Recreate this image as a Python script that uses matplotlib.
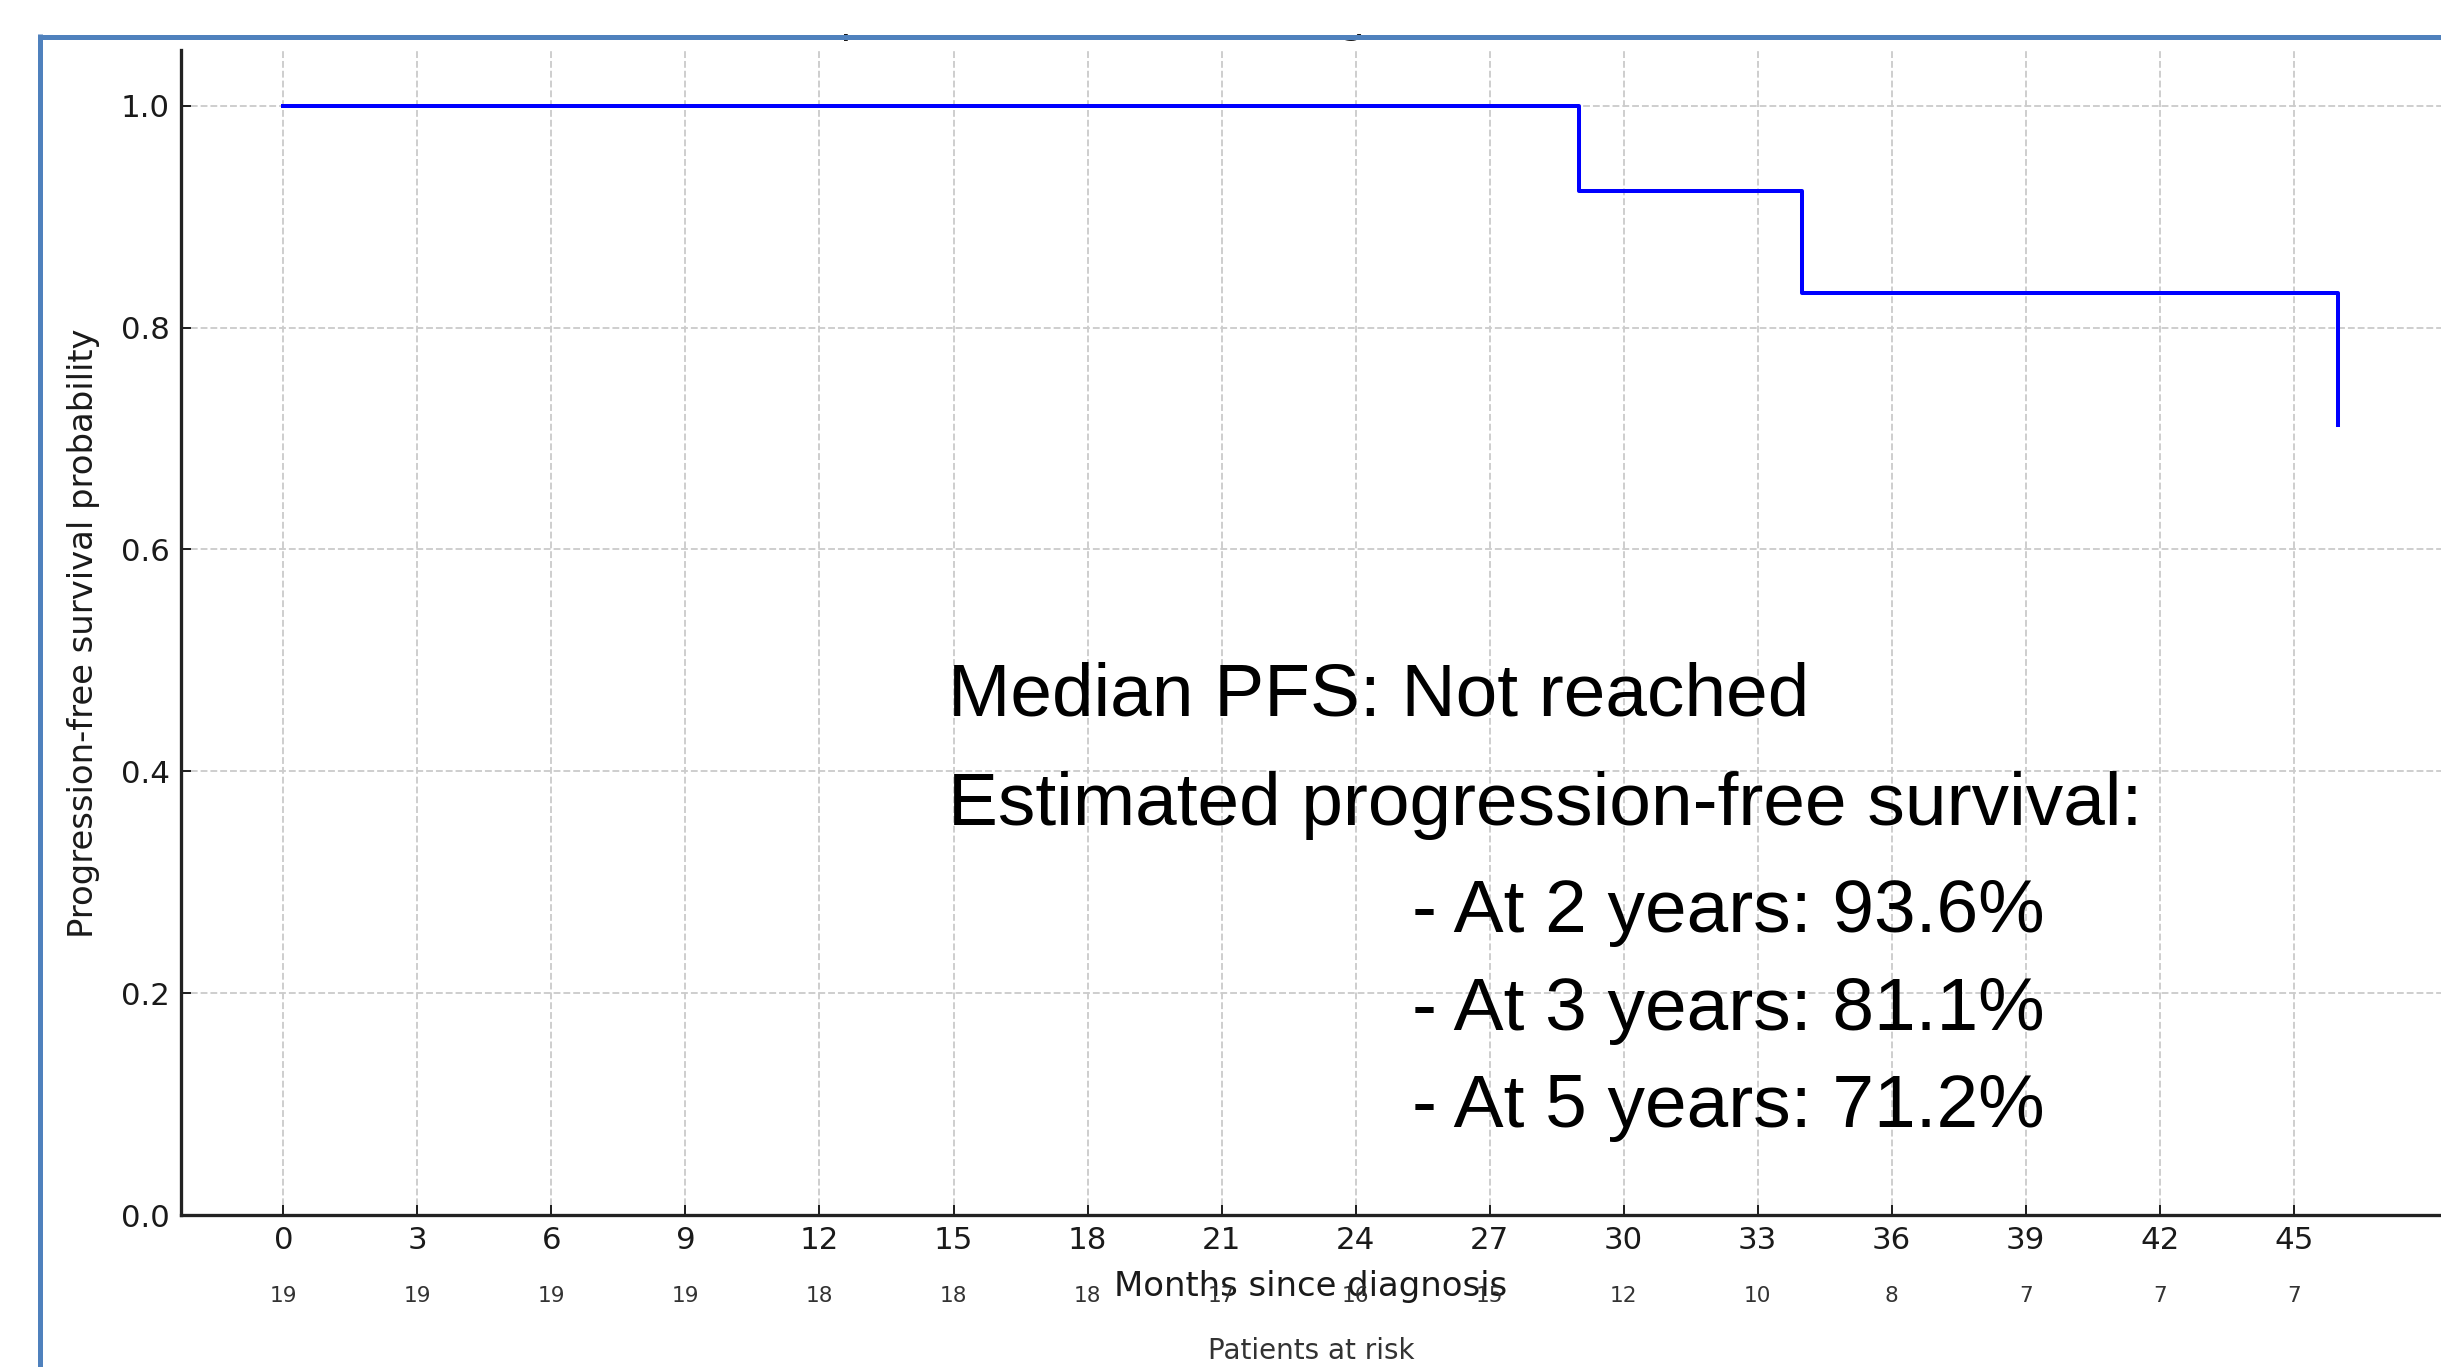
import matplotlib
matplotlib.use('Agg')
import matplotlib.pyplot as plt
from matplotlib.lines import Line2D
from matplotlib.patches import Rectangle
import matplotlib.transforms as mtransforms

W, H = 2441, 1367
DPI = 222

# Kaplan-Meier step data
times = [0, 29, 34, 46]
survival = [1.0, 0.923, 0.831, 0.712]

# numbers at risk
risk_ticks = [0, 3, 6, 9, 12, 15, 18, 21, 24, 27, 30, 33, 36, 39, 42, 45]
at_risk = [19, 19, 19, 19, 18, 18, 18, 17, 16, 15, 12, 10, 8, 7, 7, 7]

summary_head = ['Median PFS: Not reached', 'Estimated progression-free survival:']
summary_rates = ['- At 2 years: 93.6%', '- At 3 years: 81.1%', '- At 5 years: 71.2%']


def fx(px):
    return px / W


def fy(py):
    return 1 - py / H


fig = plt.figure(figsize=((W + 0.2) / DPI, (H + 0.2) / DPI), dpi=DPI)
ax = fig.add_axes([fx(180.6), fy(1215), fx(W - 180.6), (1215 - 50.5) / H])

ax.step(times, survival, where='post', color='#0000ff', lw=1.3, zorder=3)

ax.set_xlim(-2.3, 48.3)
ax.set_ylim(0, 1.05)
ax.set_xticks(risk_ticks)
ax.set_yticks([0.0, 0.2, 0.4, 0.6, 0.8, 1.0])
ax.set_yticklabels(['0.0', '0.2', '0.4', '0.6', '0.8', '1.0'])
ax.grid(True, linestyle='--', color='#cccccc', lw=0.6)
ax.set_axisbelow(True)
for side in ('top', 'right'):
    ax.spines[side].set_visible(False)
for side in ('left', 'bottom'):
    ax.spines[side].set_linewidth(1.07)
    ax.spines[side].set_color('#222222')
ax.tick_params(direction='in', length=3.2, width=0.65, color='#222222',
               labelsize=10, labelcolor='#1a1a1a', pad=3.6)

ax.set_ylabel('Progression-free survival probability', fontsize=11,
              color='#1a1a1a', labelpad=6.5)
ax.set_xlabel('Months since diagnosis', fontsize=11, color='#1a1a1a')
ax.xaxis.set_label_coords(0.5, -0.0472)

trans = mtransforms.blended_transform_factory(ax.transData, ax.transAxes)
for t, n in zip(risk_ticks, at_risk):
    ax.text(t, -0.0696, str(n), transform=trans, ha='center', va='center',
            fontsize=7, color='#333333')
ax.text(0.5, -0.1164, 'Patients at risk', transform=ax.transAxes,
        ha='center', va='center', fontsize=9, color='#333333')

big = dict(fontsize=24.3, family=['Liberation Sans', 'DejaVu Sans'], color='black',
           va='baseline', ha='left')
for label, base in zip(summary_head, [715, 825]):
    fig.text(fx(948), fy(base), label, **big)
for label, base in zip(summary_rates, [932, 1030, 1127]):
    fig.text(fx(1412), fy(base), label, **big)

# title sits mostly above the visible area; only the descenders peek out
fig.text(fx(1290), fy(32), 'Kaplan-Meier Curve for Progression-Free Survival',
         ha='center', va='baseline', fontsize=13.3, color='#1a1a1a')
fig.patches.append(Rectangle((0, fy(34.3)), 1, 1 - fy(34.3), transform=fig.transFigure,
                             facecolor='white', edgecolor='none', zorder=10))
fig.patches.append(Rectangle((0, 0), fx(38), 1, transform=fig.transFigure,
                             facecolor='white', edgecolor='none', zorder=10))
border = '#4f81bd'
fig.lines.append(Line2D([fx(37.6), 1], [fy(36.8), fy(36.8)], transform=fig.transFigure,
                        color=border, lw=1.62, zorder=11, solid_capstyle='butt'))
fig.lines.append(Line2D([fx(40.2), fx(40.2)], [fy(34.3), 0], transform=fig.transFigure,
                        color=border, lw=1.62, zorder=11, solid_capstyle='butt'))

fig.savefig('out.png', dpi=DPI, facecolor='white')
